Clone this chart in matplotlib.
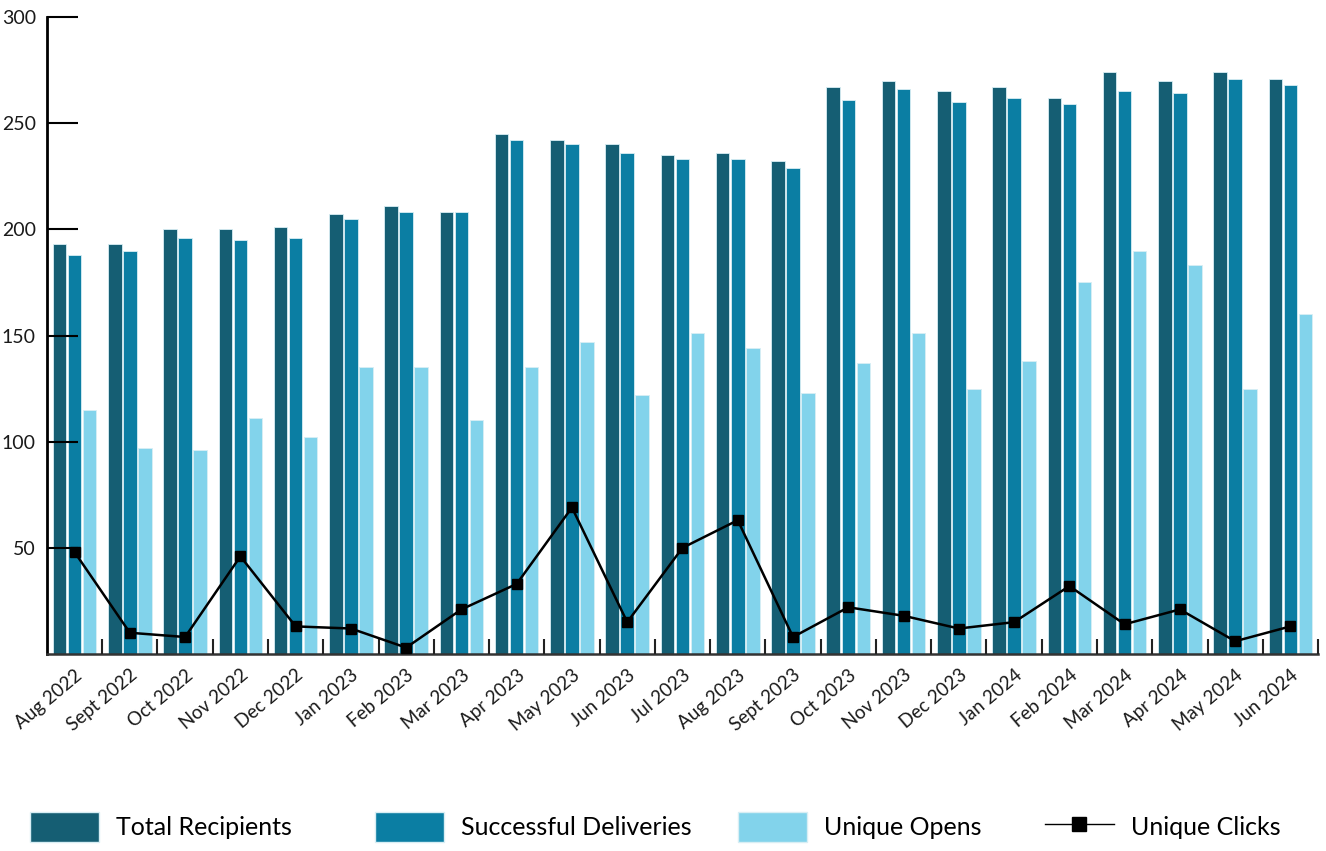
import matplotlib
matplotlib.use('Agg')
import matplotlib.pyplot as plt
import numpy as np
from matplotlib.patches import Patch
from matplotlib.lines import Line2D

plt.rcParams['font.family'] = ['Lato', 'DejaVu Sans']

months = ['Aug 2022', 'Sept 2022', 'Oct 2022', 'Nov 2022', 'Dec 2022', 'Jan 2023',
          'Feb 2023', 'Mar 2023', 'Apr 2023', 'May 2023', 'Jun 2023', 'Jul 2023',
          'Aug 2023', 'Sept 2023', 'Oct 2023', 'Nov 2023', 'Dec 2023', 'Jan 2024',
          'Feb 2024', 'Mar 2024', 'Apr 2024', 'May 2024', 'Jun 2024']
total_recipients = [193, 193, 200, 200, 201, 207, 211, 208, 245, 242, 240, 235,
                    236, 232, 267, 270, 265, 267, 262, 274, 270, 274, 271]
successful_deliveries = [188, 190, 196, 195, 196, 205, 208, 208, 242, 240, 236, 233,
                         233, 229, 261, 266, 260, 262, 259, 265, 264, 271, 268]
unique_opens = [115, 97, 96, 111, 102, 135, 135, 110, 135, 147, 122, 151,
                144, 123, 137, 151, 125, 138, 175, 190, 183, 125, 160]
unique_clicks = [48, 10, 8, 46, 13, 12, 3, 21, 33, 69, 15, 50,
                 63, 8, 22, 18, 12, 15, 32, 14, 21, 6, 13]

c_total = '#155E73'
c_deliv = '#0B7EA3'
c_opens = '#82D3EB'
edge = '#d8eef4'

fig = plt.figure(figsize=(13.26, 8.51), dpi=100)
ax = fig.add_axes([0.0354, 0.2315, 0.9586, 0.7485])

x = np.arange(len(months))
w = 0.245
off = 0.272
ax.bar(x - off, total_recipients, w, color=c_total, edgecolor=edge, linewidth=0.6, zorder=2)
ax.bar(x, successful_deliveries, w, color=c_deliv, edgecolor=edge, linewidth=0.6, zorder=2)
ax.bar(x + off, unique_opens, w, color=c_opens, edgecolor=edge, linewidth=0.6, zorder=2)
ax.plot(x, unique_clicks, color='black', lw=1.8, marker='s', markersize=7.5, zorder=4)

ax.set_xlim(-0.5, len(months) - 0.5)
ax.set_ylim(0, 300)
ax.set_axisbelow(False)

# y axis
ax.set_yticks([50, 100, 150, 200, 250, 300])
ax.tick_params(axis='y', direction='in', length=22, width=1.5, pad=8,
               labelsize=14, labelcolor='#1a1a1a')

# x axis: labels at group centers, ticks at boundaries
ax.set_xticks(x)
ax.set_xticklabels(months, rotation=40, ha='right', rotation_mode='anchor',
                   fontsize=13.5, color='#1a1a1a')
ax.tick_params(axis='x', which='major', length=0, pad=9)
ax.set_xticks(np.arange(0.5, len(months), 1), minor=True)
ax.tick_params(axis='x', which='minor', direction='in', length=11, width=1.5, color='#222222')

for s in ['top', 'right']:
    ax.spines[s].set_visible(False)
ax.spines['left'].set_linewidth(2)
ax.spines['bottom'].set_linewidth(1.8)
ax.spines['bottom'].set_color('#333333')

# legend: one entry per box so each sits where the reference puts it
handles = [Patch(facecolor=c_total, edgecolor=edge),
           Patch(facecolor=c_deliv, edgecolor=edge),
           Patch(facecolor=c_opens, edgecolor=edge),
           Line2D([0], [0], color='black', lw=1, marker='s', markersize=10)]
labels = ['Total Recipients', 'Successful Deliveries', 'Unique Opens', 'Unique Clicks']
lefts = [30, 375, 738, 1045]
for h, l, px in zip(handles, labels, lefts):
    fig.legend([h], [l], loc='center left', bbox_to_anchor=(px / 1326, 0.028),
               frameon=False, fontsize=18, handlelength=2.75, handleheight=1.45,
               handletextpad=0.7, borderpad=0, borderaxespad=0)

fig.savefig('out.png', dpi=100)
